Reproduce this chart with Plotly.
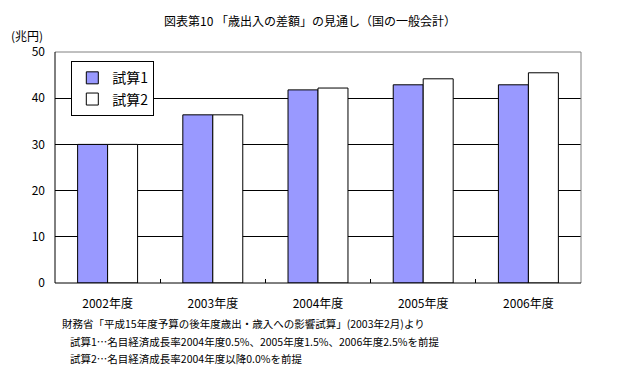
import plotly.graph_objects as go

categories = ["2002年度", "2003年度", "2004年度", "2005年度", "2006年度"]
series1_name = "試算1"
series2_name = "試算2"
series1 = [30.0, 36.4, 41.8, 42.9, 42.9]
series2 = [30.0, 36.4, 42.2, 44.2, 45.5]
y_ticks = [0, 10, 20, 30, 40, 50]

title_text = "図表第10 「歳出入の差額」の見通し（国の一般会計）"
unit_text = "(兆円)"
notes = [
    "財務省「平成15年度予算の後年度歳出・歳入への影響試算」(2003年2月)より",
    "試算1…名目経済成長率2004年度0.5%、2005年度1.5%、2006年度2.5%を前提",
    "試算2…名目経済成長率2004年度以降0.0%を前提",
]

FONT = "Noto Sans CJK JP"
OFF = 8  # browser body margin
W, H = 630 - OFF, 380 - OFF
PL, PT, PR, PB = 55 - OFF, 52 - OFF, 581 - OFF, 283 - OFF

fig = go.Figure()
fig.add_trace(go.Bar(x=categories, y=series1, name=series1_name,
                     marker=dict(color="#9999FF", line=dict(color="black", width=1))))
fig.add_trace(go.Bar(x=categories, y=series2, name=series2_name,
                     marker=dict(color="white", line=dict(color="black", width=1))))

fig.update_layout(
    width=W, height=H,
    margin=dict(l=PL, r=W - PR, t=PT, b=H - PB),
    paper_bgcolor="white", plot_bgcolor="white",
    font=dict(family=FONT, color="black", size=12),
    barmode="group", bargap=0.43, bargroupgap=0,
    showlegend=True,
    legend=dict(x=0.031, y=0.96, xanchor="left", yanchor="top",
                bgcolor="white", bordercolor="black", borderwidth=1,
                font=dict(size=14, family=FONT), itemwidth=30,
                tracegroupgap=0),
    xaxis=dict(showgrid=False, ticks="inside", tickson="boundaries", ticklen=4,
               tickcolor="black", showline=False, tickfont=dict(size=12),
               ticklabelstandoff=12),
    yaxis=dict(range=[0, 50], tickvals=y_ticks, showgrid=True, gridcolor="black",
               gridwidth=1, zeroline=False, showline=False, ticks="",
               tickfont=dict(size=12), ticklabelstandoff=9),
)

# plot borders: left/bottom black, top/right grey
fig.add_shape(type="line", xref="paper", yref="paper", x0=0, x1=1, y0=1, y1=1,
              line=dict(color="#808080", width=1), layer="above")
fig.add_shape(type="line", xref="paper", yref="paper", x0=1, x1=1, y0=0, y1=1,
              line=dict(color="#808080", width=1), layer="above")
fig.add_shape(type="line", xref="paper", yref="paper", x0=0, x1=0, y0=0, y1=1,
              line=dict(color="black", width=1), layer="above")
fig.add_shape(type="line", xref="paper", yref="paper", x0=0, x1=1, y0=0, y1=0,
              line=dict(color="black", width=1), layer="above")

fig.add_annotation(text=title_text, xref="paper", yref="paper", x=0.485, y=1,
                   yshift=32, xanchor="center", yanchor="middle", showarrow=False,
                   font=dict(size=12, family=FONT))
fig.add_annotation(text=unit_text, xref="paper", yref="paper", x=0, xshift=-46,
                   y=1, yshift=17, xanchor="left", yanchor="middle", showarrow=False,
                   font=dict(size=12, family=FONT))

note_x = [60, 68, 68]
note_y = [323, 341, 358]
pw = PR - PL
ph = PB - PT
for t, nx, ny in zip(notes, note_x, note_y):
    fig.add_annotation(text=t, xref="paper", yref="paper",
                       x=(nx - 55) / pw, y=(283 - ny) / ph,
                       xanchor="left", yanchor="middle", showarrow=False,
                       font=dict(size=10.5, family=FONT))

fig.write_html("out.html")
